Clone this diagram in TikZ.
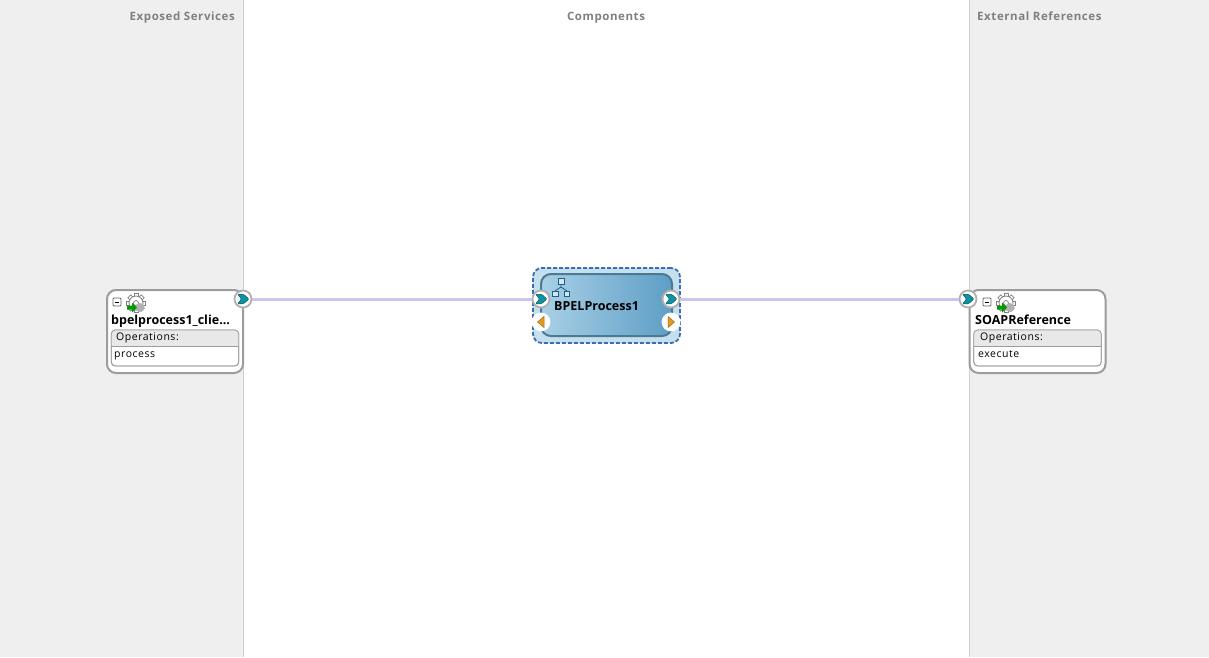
\documentclass[tikz,border=0pt]{standalone}
\usepackage{fontspec}
\setmainfont{Open Sans}
\usetikzlibrary{calc}
\definecolor{panelgray}{HTML}{EFEFEF}
\definecolor{panelline}{HTML}{CFCFCF}
\definecolor{boxline}{HTML}{9C9C9C}
\definecolor{wirecol}{HTML}{C9C5EE}
\definecolor{tealport}{HTML}{0E93A3}
\definecolor{orangeport}{HTML}{E39A1E}
\definecolor{selfill}{HTML}{C4DFEE}
\definecolor{seldash}{HTML}{3C6DB4}
\definecolor{bpelleft}{HTML}{A8D0E6}
\definecolor{bpelright}{HTML}{5E9EC6}
\definecolor{bpelline}{HTML}{4C7A92}
\definecolor{treeline}{HTML}{1F5F85}
\tikzset{
  panel/.style={fill=panelgray,draw=none,minimum height=657,inner sep=0,outer sep=0},
  title/.style={text=gray,font=\fontsize{11.5}{13}\selectfont\bfseries\addfontfeatures{LetterSpace=5}},
  svcbox/.style={rectangle,rounded corners=9,draw=boxline,line width=2,fill=white,minimum width=136,minimum height=83,inner sep=0},
  opsbox/.style={rectangle,rounded corners=4,draw=boxline,line width=0.8,fill=white,minimum width=127.5,minimum height=36,inner sep=0},
  svcname/.style={anchor=base west,inner sep=0,font=\fontsize{12.5}{14}\selectfont\bfseries},
  opname/.style={anchor=base west,inner sep=0,font=\fontsize{10.5}{12}\selectfont\addfontfeatures{LetterSpace=5}},
  port/.style={circle,draw=boxline!80,line width=1.8,fill=white,minimum size=17,inner sep=0},
  wire/.style={wirecol,line width=3},
}
% chevron inside a port, right pointing
\newcommand{\chev}[1]{\fill[tealport,draw=teal!60!black,line width=0.4,rounded corners=1] ($(#1)+(-5.5,-4.8)$) -- ($(#1)+(0.5,-4.8)$) -- ($(#1)+(6,0)$) -- ($(#1)+(0.5,4.8)$) -- ($(#1)+(-5.5,4.8)$) -- ($(#1)+(-1.5,0)$) -- cycle;}
% gear with the green arrow
\newcommand{\gearicon}[1]{
  \begin{scope}[shift={(#1)}]
    \foreach \a in {0,45,...,315}{\draw[gray,fill=white,line width=0.7,rotate=\a] (-2,-9.5) rectangle (2,-5);}
    \draw[gray,fill=white,line width=0.8] (0,0) circle (7);
    \draw[gray,fill=white,line width=0.7] (0,0) circle (2.5);
    \fill[gray!60] (4,4.5) circle (4.5);
    \fill[green!60!black] (-9,2.5) -- (-4,2.5) -- (-4,-0.5) -- (1,4.5) -- (-4,9.5) -- (-4,6.5) -- (-9,6.5) -- cycle;
  \end{scope}}
\newcommand{\minusicon}[1]{\draw[gray!80!black,fill=white,rounded corners=1,line width=0.8] ($(#1)+(-4,-4)$) rectangle ($(#1)+(4,4)$); \draw[black,line width=0.8] ($(#1)+(-2.3,0)$) -- ($(#1)+(2.3,0)$);}
\begin{document}
\begin{tikzpicture}[x=1pt,y=-1pt]
\useasboundingbox (0,0) rectangle (1209,657);
\fill[white] (0,0) rectangle (1209,657);
\node[panel,minimum width=243] (leftpanel) at (121.5,328.5) {};
\node[panel,minimum width=240] (rightpanel) at (1089,328.5) {};
\draw[panelline,line width=1] (leftpanel.north east) -- (leftpanel.south east) (rightpanel.north west) -- (rightpanel.south west);
\node[title,anchor=base east,inner sep=0] (exposed) at (235,20) {Exposed Services};
\node[title,anchor=base,inner sep=0] (comps) at (606,20) {Components};
\node[title,anchor=base west,inner sep=0] (extrefs) at (977,20) {External References};
% left service
\node[svcbox] (client) at (175,331.5) {};
\node[opsbox] (clientops) at (175,348) {};
\begin{scope}
  \clip[rounded corners=4] (clientops.north west) rectangle (clientops.south east);
  \fill[gray!18] (clientops.north west) rectangle (239,346);
\end{scope}
\draw[boxline,line width=0.8] (111,346) -- (239,346);
\node[opsbox,fill=none] (clientopsframe) at (175,348) {};
\minusicon{117,302}
\gearicon{136,303}
\node[svcname] (clientname) at (111,324) {bpelprocess1\_clie...};
\node[opname] (clientopsl) at (116,340) {Operations:};
\node[opname] (clientop) at (114,357) {process};
% right reference
\node[svcbox] (soap) at (1037.5,331.5) {};
\node[opsbox] (soapops) at (1037.5,348) {};
\begin{scope}
  \clip[rounded corners=4] (soapops.north west) rectangle (soapops.south east);
  \fill[gray!18] (soapops.north west) rectangle (1101,346);
\end{scope}
\draw[boxline,line width=0.8] (974,346) -- (1101,346);
\node[opsbox,fill=none] (soapopsframe) at (1037.5,348) {};
\minusicon{987,302}
\gearicon{1006,303}
\node[svcname] (soapname) at (975,324) {SOAPReference};
\node[opname] (soapopsl) at (980,340) {Operations:};
\node[opname] (soapop) at (978,357) {execute};
% component
\node[rectangle,rounded corners=9,draw=seldash,dash pattern=on 4 off 2,line width=1.8,fill=selfill,minimum width=147,minimum height=75] (bpelsel) at (606.5,305.5) {};
\node[rectangle,rounded corners=10,draw=bpelline,line width=2,left color=bpelleft,right color=bpelright,minimum width=131,minimum height=62] (bpel) at (606.5,305) {};
\begin{scope}[shift={(561,288)},treeline,line width=0.8]
  \draw (0,-5) -- (0,-1) (0,-1) -- (-6,3) (0,-1) -- (6,3);
  \draw[fill=bpelleft!50] (-3,-9.5) rectangle (3,-3.5);
  \draw[fill=bpelleft!50] (-8.5,3) rectangle (-3,8.5);
  \draw[fill=bpelleft!50] (3,3) rectangle (8.5,8.5);
\end{scope}
\node[svcname] (bpelname) at (554,310) {BPELProcess1};
% ports
\node[port] (clientport) at (243,299) {};
\node[port] (bpelin) at (541,299) {};
\node[port] (bpelout) at (671,299) {};
\node[port,draw=white] (bpelcbin) at (541,322) {};
\node[port,draw=white] (bpelcbout) at (671,322) {};
\node[port] (soapport) at (968,299) {};
\draw[wire] (clientport) -- (bpelin);
\draw[wire] (bpelout) -- (soapport);
\chev{clientport}
\chev{bpelin}
\chev{bpelout}
\chev{soapport}
\fill[orangeport,draw=orangeport!70!black,line width=0.5] ($(bpelcbin)+(3,-5.5)$) -- ($(bpelcbin)+(-3.5,0)$) -- ($(bpelcbin)+(3,5.5)$) -- cycle;
\fill[orangeport,draw=orangeport!70!black,line width=0.5] ($(bpelcbout)+(-3,-5.5)$) -- ($(bpelcbout)+(3.5,0)$) -- ($(bpelcbout)+(-3,5.5)$) -- cycle;
\end{tikzpicture}
\end{document}
